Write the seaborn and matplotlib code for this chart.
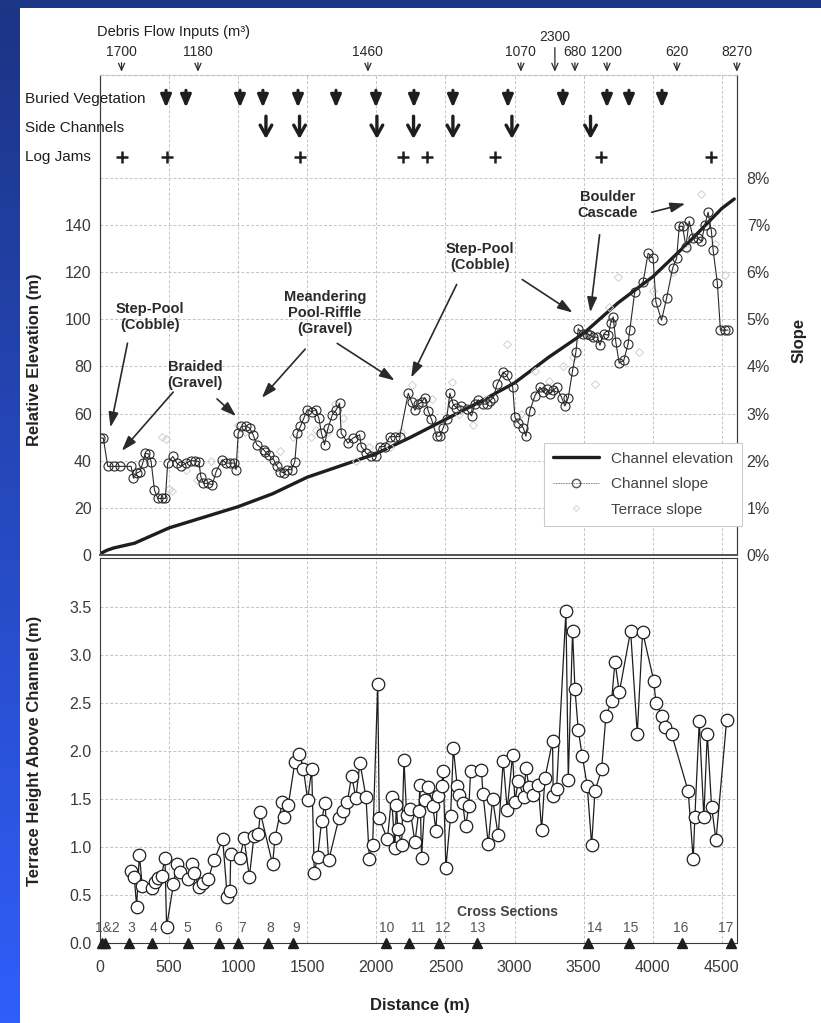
import numpy as np
import matplotlib
matplotlib.use('Agg')
import matplotlib.pyplot as plt
import matplotlib.transforms as mtrans
from matplotlib.lines import Line2D
import seaborn as sns

sns.set_style("whitegrid")
plt.rcParams['font.family'] = ['Liberation Sans', 'DejaVu Sans']

# ---- data ----
# channel elevation profile (m)
elev_x = [0, 50, 100, 250, 500, 750, 1000, 1250, 1500, 1750, 2000, 2250, 2500,
          2750, 3000, 3250, 3500, 3750, 4000, 4250, 4500, 4590]
elev_m = [0.5, 2, 3, 5, 11.5, 16, 20.5, 26, 33, 38, 43, 50, 57.5,
          65, 73, 84, 94, 107, 118, 132, 147, 151]

# channel slope (%)
slope_x = [0, 24, 56, 104, 145, 225, 242, 266, 290, 309, 328, 353, 370, 394, 418,
           449, 473, 490, 527, 556, 587, 623, 659, 691, 715, 730, 749, 780, 812,
           841, 884, 913, 942, 973, 985, 1000, 1024, 1060, 1084, 1108, 1135, 1185,
           1196, 1221, 1257, 1282, 1306, 1330, 1355, 1386, 1410, 1427, 1451, 1475,
           1500, 1531, 1560, 1584, 1603, 1625, 1650, 1681, 1710, 1734, 1746, 1795,
           1831, 1879, 1891, 1927, 1963, 2000, 2024, 2060, 2096, 2133, 2169,
           2231, 2255, 2279, 2303, 2327, 2351, 2375, 2399, 2436, 2460, 2484, 2508,
           2532, 2556, 2580, 2616, 2653, 2689, 2713, 2737, 2774, 2798, 2822, 2846,
           2875, 2918, 2943, 2987, 3003, 3027, 3063, 3082, 3111, 3148, 3184, 3208,
           3232, 3256, 3280, 3304, 3341, 3365, 3389, 3420, 3444, 3461, 3493, 3522,
           3546, 3570, 3599, 3618, 3647, 3678, 3695, 3714, 3733, 3757, 3791, 3822,
           3834, 3870, 3931, 3967, 4003, 4023, 4064, 4100, 4144, 4173, 4192, 4216,
           4240, 4264, 4293, 4329, 4353, 4377, 4401, 4425, 4437, 4468, 4490, 4522, 4546]
slope_pct = [2.48, 2.48, 1.88, 1.88, 1.88, 1.88, 1.63, 1.74, 1.77, 1.95, 2.16, 2.14, 1.98,
             1.38, 1.20, 1.20, 1.20, 1.95, 2.09, 1.95, 1.88, 1.95, 2.00, 2.00, 1.98, 1.66,
             1.52, 1.52, 1.49, 1.77, 2.02, 1.95, 1.95, 1.95, 1.81, 2.58, 2.73, 2.73, 2.69,
             2.55, 2.34, 2.23, 2.19, 2.12, 2.02, 1.88, 1.77, 1.74, 1.81, 1.81, 1.98, 2.58,
             2.73, 2.90, 3.08, 3.04, 3.08, 2.90, 2.58, 2.34, 2.69, 2.97, 3.08, 3.22, 2.58,
             2.37, 2.48, 2.55, 2.30, 2.16, 2.09, 2.10, 2.30, 2.30, 2.51, 2.51, 2.51,
             3.43, 3.24, 3.07, 3.20, 3.24, 3.34, 3.06, 2.88, 2.52, 2.52, 2.70, 2.88,
             3.43, 3.20, 3.12, 3.16, 3.09, 2.95, 3.20, 3.29, 3.20, 3.20, 3.27, 3.34,
             3.63, 3.88, 3.81, 3.56, 2.92, 2.81, 2.70, 2.52, 3.06, 3.38, 3.56, 3.45,
             3.52, 3.41, 3.49, 3.56, 3.34, 3.16, 3.34, 3.91, 4.30, 4.80, 4.69, 4.69,
             4.66, 4.62, 4.62, 4.45, 4.69, 4.66, 4.91, 5.05, 4.52, 4.07, 4.13, 4.48,
             4.77, 5.58, 5.80, 6.40, 6.29, 5.37, 4.98, 5.44, 6.08, 6.29, 6.97, 6.97,
             6.54, 7.08, 6.72, 6.72, 6.65, 7.00, 7.27, 6.86, 6.47, 5.76, 4.77, 4.77, 4.77]

# terrace slope (%), faint symbols
tslope_x = [450, 480, 500, 520, 620, 700, 800, 1000, 1050, 1300, 1400, 1530, 1560, 1650,
            1700, 1760, 1850, 1950, 2100, 2180, 2255, 2300, 2400, 2544, 2600, 2700, 2800,
            2943, 3050, 3150, 3250, 3350, 3420, 3582, 3683, 3750, 3900, 4000, 4150, 4250,
            4353, 4450, 4522]
tslope_pct = [2.5, 2.45, 1.4, 1.35, 1.8, 1.6, 2.0, 2.75, 2.6, 2.2, 2.5, 2.5, 2.65, 2.6,
              3.2, 2.9, 2.0, 2.3, 2.3, 2.6, 3.6, 3.2, 3.3, 3.66, 3.0, 2.75, 3.3,
              4.48, 3.0, 3.9, 3.7, 4.0, 4.2, 3.63, 5.26, 5.9, 4.3, 5.6, 6.0, 6.5,
              7.65, 6.6, 5.94]

# terrace height above channel (m)
terr_x = [224, 248, 265, 285, 306, 374, 398, 422, 446, 470, 482, 531, 555, 579, 639, 663,
          683, 716, 748, 784, 825, 888, 921, 941, 946, 1013, 1042, 1081, 1114, 1146, 1160,
          1249, 1266, 1320, 1334, 1363, 1411, 1443, 1472, 1503, 1532, 1551, 1575, 1604,
          1628, 1655, 1729, 1761, 1790, 1821, 1852, 1881, 1925, 1949, 1973, 2010, 2021,
          2080, 2110, 2134, 2145, 2155, 2183, 2200, 2219, 2243, 2279, 2308, 2315, 2327,
          2352, 2376, 2408, 2431, 2444, 2472, 2484, 2503, 2537, 2557, 2585, 2600, 2624,
          2646, 2670, 2682, 2760, 2772, 2810, 2841, 2882, 2918, 2947, 2986, 3003, 3027,
          3068, 3082, 3106, 3135, 3171, 3196, 3220, 3275, 3280, 3304, 3372, 3389, 3420,
          3437, 3461, 3490, 3526, 3558, 3582, 3630, 3661, 3702, 3727, 3758, 3840, 3888,
          3927, 4008, 4023, 4069, 4088, 4136, 4257, 4293, 4305, 4337, 4370, 4395, 4426,
          4458, 4535]
terr_h = [0.75, 0.69, 0.38, 0.92, 0.59, 0.57, 0.64, 0.68, 0.70, 0.89, 0.17, 0.61, 0.82, 0.74,
          0.67, 0.82, 0.73, 0.58, 0.63, 0.67, 0.86, 1.08, 0.48, 0.54, 0.93, 0.89, 1.09, 0.69,
          1.11, 1.14, 1.36, 0.82, 1.09, 1.47, 1.31, 1.44, 1.89, 1.97, 1.81, 1.49, 1.81, 0.73,
          0.90, 1.27, 1.46, 0.86, 1.30, 1.38, 1.47, 1.74, 1.51, 1.88, 1.52, 0.88, 1.02, 2.70,
          1.30, 1.08, 1.52, 0.99, 1.44, 1.19, 1.02, 1.91, 1.33, 1.40, 1.05, 1.38, 1.65, 0.89,
          1.49, 1.62, 1.43, 1.17, 1.53, 1.64, 1.79, 0.78, 1.32, 2.03, 1.64, 1.54, 1.46, 1.22,
          1.43, 1.79, 1.80, 1.55, 1.03, 1.50, 1.12, 1.90, 1.39, 1.96, 1.47, 1.69, 1.52, 1.82,
          1.62, 1.54, 1.65, 1.18, 1.72, 2.10, 1.53, 1.60, 3.46, 1.70, 3.25, 2.65, 2.22, 1.95,
          1.64, 1.02, 1.58, 1.81, 2.36, 2.52, 2.93, 2.61, 3.25, 2.18, 3.24, 2.73, 2.50, 2.36,
          2.25, 2.18, 1.58, 0.87, 1.31, 2.31, 1.31, 2.18, 1.42, 1.07, 2.32]

# header rows
debris_x = [156, 709, 1939, 3046, 3292, 3437, 3669, 4175, 4609]
debris_vol = ['1700', '1180', '1460', '1070', '2300', '680', '1200', '620', '8270']
buried_veg_x = [478, 622, 1013, 1179, 1433, 1708, 1997, 2272, 2554, 2952, 3350, 3669, 3828, 4067]
side_chan_x = [1201, 1444, 2004, 2269, 2554, 2981, 3550]
log_jam_x = [156, 488, 1444, 2192, 2364, 2857, 3625, 4421]

# cross sections
cs_x = [12, 36, 212, 374, 634, 863, 1001, 1218, 1399, 2067, 2238, 2455, 2730,
        3533, 3830, 4214, 4564]
cs_label_x = [50, 230, 390, 629, 854, 1027, 1230, 1418, 2077, 2301, 2482, 2735,
              3582, 3842, 4204, 4530]
cs_labels = ['1&2', '3', '4', '5', '6', '7', '8', '9', '10', '11', '12', '13',
             '14', '15', '16', '17']

# ---- layout ----
W, H = 821, 1023
def box(l, t, r, b):
    return [l / W, 1 - b / H, (r - l) / W, (b - t) / H]

fig = plt.figure(figsize=(W / 100, H / 100), dpi=100)
fig.patch.set_facecolor('white')

# blue slide border (left gradient strip and top band)
strip = fig.add_axes([0, 0, 19 / W, 1])
grad = np.linspace(0, 1, 256)[:, None, None]
top_c = np.array([28, 52, 132]) / 255
bot_c = np.array([48, 94, 250]) / 255
strip.imshow(top_c + grad * (bot_c - top_c), aspect='auto', extent=[0, 1, 0, 1])
strip.axis('off')
band = fig.add_axes([0, 1 - 8 / H, 1, 8 / H])
band.set_facecolor('#1d3787')
band.set_xticks([]); band.set_yticks([])
for s in band.spines.values():
    s.set_visible(False)

XMAX = 4610
ETOP = 203.6
grid_kw = dict(color='#c4c4c4', linestyle=(0, (3, 2)), linewidth=0.7)
tick_c = '#3a3a3a'

ax = fig.add_axes(box(100, 75, 737, 555))
ax2 = ax.twinx()
axb = fig.add_axes(box(100, 558, 737, 943))

# top panel
sns.lineplot(x=elev_x, y=elev_m, ax=ax, color='#1e1e1e', linewidth=2.4,
             estimator=None, sort=False)
sns.lineplot(x=tslope_x, y=tslope_pct, ax=ax2, linestyle='', marker='D',
             markersize=4, markerfacecolor='none', markeredgecolor='#d0d0d0',
             markeredgewidth=0.7, estimator=None, sort=False)
sns.lineplot(x=slope_x, y=slope_pct, ax=ax2, color='#2a2a2a', linewidth=0.8,
             marker='o', markersize=6.5, markerfacecolor='none',
             markeredgecolor='#2a2a2a', markeredgewidth=0.8, estimator=None, sort=False)

ax.set_xlim(0, XMAX)
ax.set_ylim(0, ETOP)
ax2.set_ylim(0, ETOP / 20)
ax.set_xticks(range(0, 4501, 500))
ax.tick_params(axis='x', labelbottom=False, length=0)
ax.set_yticks(range(0, 161, 20))
ax.set_yticklabels([str(v) for v in range(0, 141, 20)] + [''])
ax.tick_params(axis='y', labelsize=11.5, labelcolor=tick_c, length=0, pad=6)
ax.grid(True, **grid_kw)
ax2.grid(False)
ax2.set_yticks(range(0, 9))
ax2.set_yticklabels([f'{v}%' for v in range(0, 9)])
ax2.tick_params(axis='y', labelsize=11.5, labelcolor=tick_c, length=0, pad=7)
ax.set_ylabel('Relative Elevation (m)', fontsize=12, fontweight='bold', color='#222')
ax.yaxis.set_label_coords(-0.091, 0.406)
ax2.set_ylabel('Slope', fontsize=12, fontweight='bold', color='#222')
ax2.yaxis.set_label_coords(1.086, 0.448)
for a in (ax, ax2):
    a.spines['left'].set_color('#3a3a3a')
    a.spines['right'].set_color('#3a3a3a')
    a.spines['bottom'].set_color('#555555')
    a.spines['bottom'].set_linewidth(1.3)
    a.spines['top'].set_color('#c4c4c4')
    a.spines['top'].set_linestyle((0, (3, 2)))

# legend
handles = [Line2D([], [], color='#1e1e1e', lw=2.4),
           Line2D([], [], color='#777777', lw=0.6, ls=(0, (2, 1)), marker='o',
                  markersize=6, markerfacecolor='none', markeredgecolor='#555555'),
           Line2D([], [], ls='', marker='D', markersize=3, markerfacecolor='none',
                  markeredgecolor='#e0e0e0')]
leg = ax2.legend(handles, ['Channel elevation', 'Channel slope', 'Terrace slope'],
                 loc='lower left', bbox_to_anchor=(0.685, 0.045), fontsize=11,
                 labelcolor='#444444', handlelength=3.0, frameon=True, fancybox=False,
                 framealpha=1, borderpad=0.6, labelspacing=0.75)
leg.get_frame().set_edgecolor('#cccccc')
leg.get_frame().set_linewidth(0.8)

# habitat annotations (text centre, then arrow tail -> tip)
ann_kw = dict(fontsize=10.5, fontweight='bold', color='#2a2a2a', ha='center',
              va='center', linespacing=1.15)
arr_kw = dict(arrowstyle='-|>,head_width=0.3,head_length=0.9', color='#2a2a2a', lw=1.2)
notes = [
    ('Step-Pool\n(Cobble)', (362, 101), [((203, 91), (72, 53))]),
    ('Braided\n(Gravel)', (687, 76.4), [((543, 70), (145, 43.3)), ((832, 67), (999, 58.1))]),
    ('Meandering\nPool-Riffle\n(Gravel)', (1628, 102.7),
     [((1498, 88.2), (1158, 65.8)), ((1700, 90.4), (2149, 73.4))]),
    ('Step-Pool\n(Cobble)', (2750, 126.4),
     [((2590, 115.8), (2243, 74.2)), ((3039, 117.5), (3437, 102.2))]),
    ('Boulder\nCascade', (3676, 148.5),
     [((3618, 137), (3546, 101.8)), ((3973, 145.1), (4255, 149.3))]),
]
for txt, pos, arrows in notes:
    ax.text(pos[0], pos[1], txt, zorder=6, **ann_kw)
    for tail, tip in arrows:
        ax.annotate('', xy=tip, xytext=tail, arrowprops=arr_kw, zorder=6)

# header rows
blend = mtrans.blended_transform_factory(ax.transAxes, ax.transData)
row_kw = dict(fontsize=11, color='#1e1e1e', ha='left', va='center',
              family=['Liberation Sans Narrow', 'Liberation Sans', 'DejaVu Sans'])
ax.text(-0.118, 193.5, 'Buried Vegetation', transform=blend, **row_kw)
ax.text(-0.118, 181.2, 'Side Channels', transform=blend, **row_kw)
ax.text(-0.118, 168.9, 'Log Jams', transform=blend, **row_kw)
for x in buried_veg_x:
    ax.annotate('', xy=(x, 188.6), xytext=(x, 198.3),
                arrowprops=dict(arrowstyle='-|>,head_width=0.32,head_length=0.75',
                                color='#1e1e1e', lw=2.2))
for x in side_chan_x:
    ax.annotate('', xy=(x, 175.3), xytext=(x, 187.3),
                arrowprops=dict(arrowstyle='->,head_width=0.42,head_length=0.75',
                                color='#1e1e1e', lw=2.4))
ax.plot(log_jam_x, [168.9] * len(log_jam_x), ls='', marker='+', markersize=9,
        markeredgewidth=1.8, color='#1e1e1e', zorder=5)

# debris flow inputs
ax.text(-22, 221.8, 'Debris Flow Inputs (m\u00b3)', fontsize=10.5, color='#1e1e1e',
        ha='left', va='center', clip_on=False,
        family=['Liberation Sans Narrow', 'Liberation Sans', 'DejaVu Sans'])
for x, v in zip(debris_x, debris_vol):
    ytxt = 219.8 if v == '2300' else 213.4
    ax.text(x, ytxt, v, fontsize=10, color='#2a2a2a', ha='center', va='center',
            clip_on=False, family=['Liberation Sans Narrow', 'Liberation Sans', 'DejaVu Sans'])
    ax.annotate('', xy=(x, 203.8), xytext=(x, ytxt - 3.4),
                arrowprops=dict(arrowstyle='->,head_width=0.22,head_length=0.5',
                                color='#2a2a2a', lw=0.9), annotation_clip=False)

# bottom panel
sns.lineplot(x=terr_x, y=terr_h, ax=axb, color='#1e1e1e', linewidth=0.9,
             marker='o', markersize=9, markerfacecolor='white',
             markeredgecolor='#1e1e1e', markeredgewidth=0.9, estimator=None, sort=False)
axb.set_xlim(0, XMAX)
axb.set_ylim(0, 4.01)
axb.set_xticks(range(0, 4501, 500))
axb.set_yticks(np.arange(0, 3.51, 0.5))
axb.set_yticklabels([f'{v:.1f}' for v in np.arange(0, 3.51, 0.5)])
axb.tick_params(labelsize=11.5, labelcolor=tick_c, length=0)
axb.tick_params(axis='x', pad=12)
axb.tick_params(axis='y', pad=6)
axb.grid(True, **grid_kw)
for s in axb.spines.values():
    s.set_color('#3a3a3a')
axb.set_ylabel('Terrace Height Above Channel (m)', fontsize=12, fontweight='bold', color='#222')
axb.yaxis.set_label_coords(-0.091, 0.5)
axb.set_xlabel('Distance (m)', fontsize=12, fontweight='bold', color='#222')
axb.xaxis.set_label_coords(0.502, -0.143)

axb.plot(cs_x, [0] * len(cs_x), ls='', marker='^', markersize=6.5, color='#1e1e1e',
         clip_on=False, zorder=7)
for x, lab in zip(cs_label_x, cs_labels):
    axb.text(x, 0.16, lab, fontsize=10, color='#555555', ha='center', va='center')
axb.text(2952, 0.32, 'Cross Sections', fontsize=10, fontweight='bold', color='#444444',
         ha='center', va='center')

fig.savefig('out.png', dpi=100, facecolor='white')
